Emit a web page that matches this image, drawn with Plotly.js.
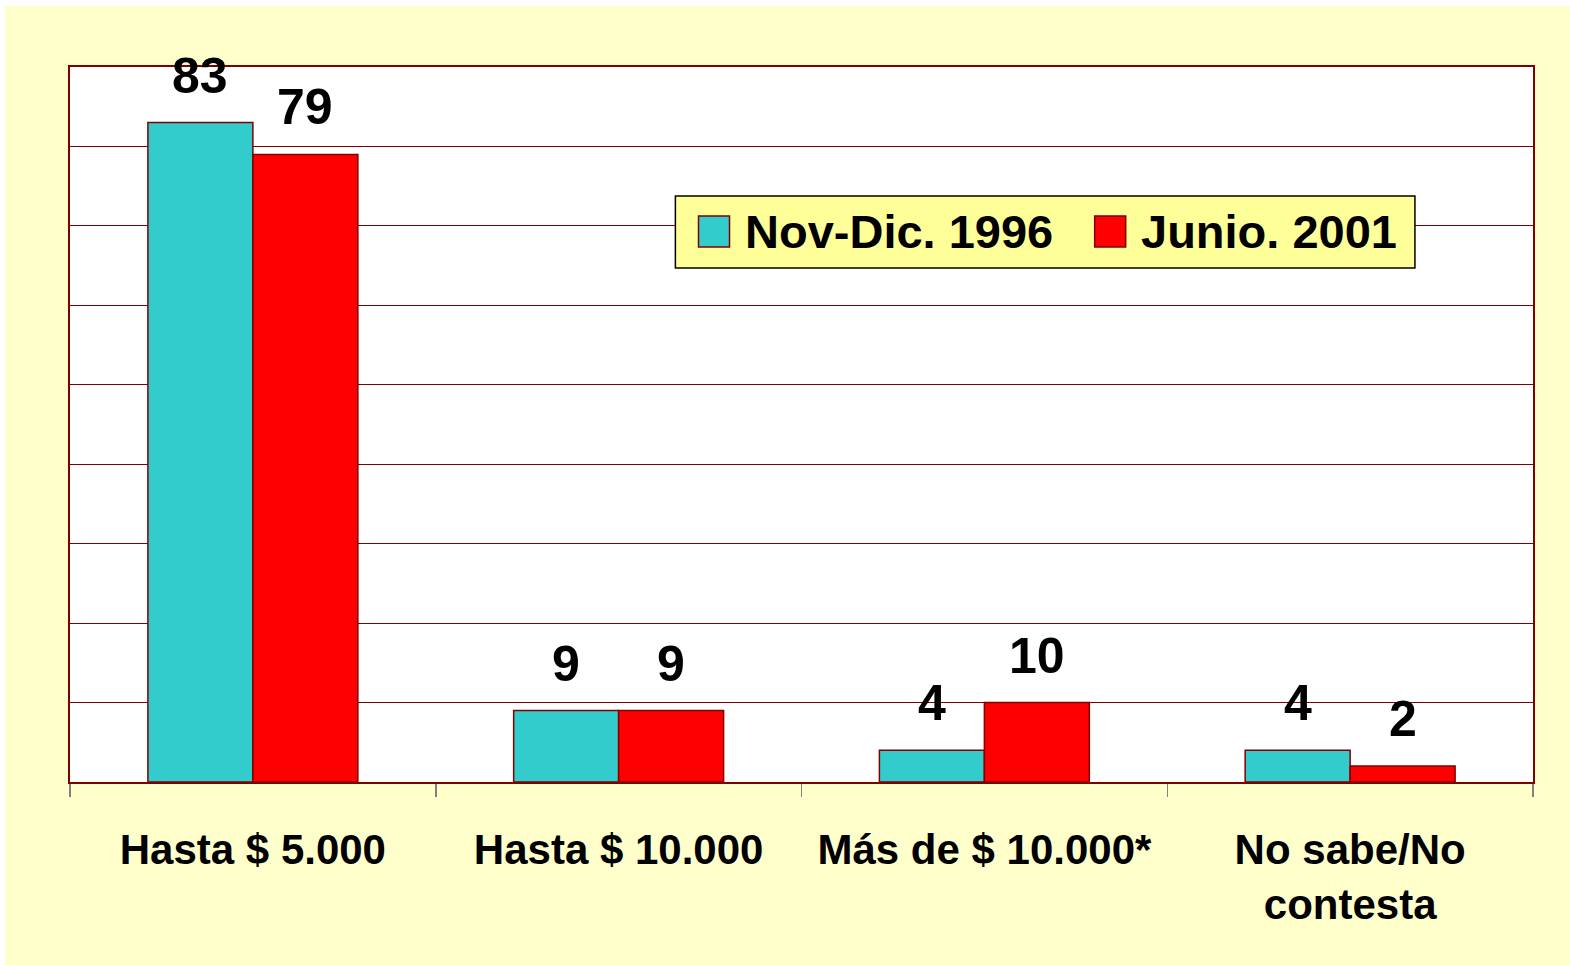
<!DOCTYPE html>
<html>
<head>
<meta charset="utf-8">
<script src="https://cdn.plot.ly/plotly-3.0.1.min.js"></script>
<style>
html,body{margin:0;padding:0;background:#ffffff;width:1570px;height:965px;overflow:hidden;}
#chart{position:absolute;left:5px;top:6px;width:1565px;height:959px;}
</style>
</head>
<body>
<div id="chart"></div>
<script>
var categories = ['Hasta $ 5.000', 'Hasta $ 10.000', 'Más de $ 10.000*', 'No sabe/No<br>contesta'];
var seriesNames = ['Nov-Dic. 1996', 'Junio. 2001'];
var values1996 = [83, 9, 4, 4];
var values2001 = [79, 9, 10, 2];
var seriesColors = ['#33CCCC', '#FF0000'];

var FONT = '"Liberation Sans", Arial, sans-serif';
var seriesValues = [values1996, values2001];

var traces = seriesValues.map(function (vals, s) {
  return {
    type: 'bar',
    name: seriesNames[s],
    x: categories,
    y: vals,
    marker: {color: seriesColors[s], line: {color: '#800000', width: 1.5}},
    showlegend: false,
    hoverinfo: 'x+y'
  };
});

var BARW = 0.287; // fraction of a category taken by one bar
var annotations = [];
seriesValues.forEach(function (vals, s) {
  var off = (s === 0 ? -1 : 1) * BARW / 2;
  vals.forEach(function (v, i) {
    annotations.push({
      x: i + off, y: v, xref: 'x', yref: 'y',
      text: String(v), showarrow: false,
      xanchor: 'center', yanchor: 'bottom', yshift: 17,
      font: {family: FONT, size: 50, color: '#000000', weight: 'bold'}
    });
  });
});

// manual legend (large swatches)
var shapes = [];
var legX0 = 0.4138, legX1 = 0.9193, legY1 = 0.8196, legY0 = 0.7189;
shapes.push({type: 'rect', xref: 'paper', yref: 'paper', x0: legX0, x1: legX1, y0: legY0, y1: legY1,
  fillcolor: '#FFFF99', line: {color: '#000000', width: 1.5}, layer: 'above'});
var swatchX = [0.4296, 0.7004];
var swW = 0.0212, swY0 = 0.7483, swY1 = 0.7916;
var textX = [0.4603, 0.7309];
seriesNames.forEach(function (n, s) {
  shapes.push({type: 'rect', xref: 'paper', yref: 'paper', x0: swatchX[s], x1: swatchX[s] + swW, y0: swY0, y1: swY1,
    fillcolor: seriesColors[s], line: {color: '#800000', width: 1.5}, layer: 'above'});
  annotations.push({x: textX[s], y: (legY0 + legY1) / 2, xref: 'paper', yref: 'paper',
    text: n, showarrow: false, xanchor: 'left', yanchor: 'middle',
    font: {family: FONT, size: 47, color: '#000000', weight: 'bold'}});
});

var layout = {
  width: 1565, height: 959,
  paper_bgcolor: '#FFFFCC',
  plot_bgcolor: '#FFFFFF',
  margin: {l: 65, r: 37, t: 61, b: 183},
  barmode: 'group',
  bargap: 0.426,
  bargroupgap: 0,
  showlegend: false,
  xaxis: {
    type: 'category',
    tickson: 'boundaries',
    ticks: 'outside', ticklen: 13, tickwidth: 1.5, tickcolor: '#808080',
    showgrid: false,
    showline: true, linecolor: '#800000', linewidth: 2, mirror: true,
    tickfont: {family: FONT, size: 42, color: '#000000', weight: 'bold'},
    ticklabelstandoff: 30
  },
  yaxis: {
    range: [0, 90], dtick: 10, tick0: 0,
    showticklabels: false, ticks: '',
    showgrid: true, gridcolor: '#800000', gridwidth: 1,
    zeroline: false,
    showline: true, linecolor: '#800000', linewidth: 2, mirror: true
  },
  annotations: annotations,
  shapes: shapes
};

Plotly.newPlot('chart', traces, layout, {displayModeBar: false, staticPlot: true});
</script>
</body>
</html>
